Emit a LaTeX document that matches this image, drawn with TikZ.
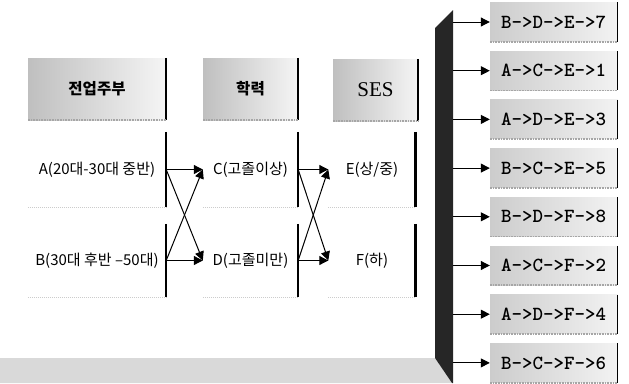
\documentclass[tikz,border=0pt]{standalone}
\usepackage{fontspec}
\setmainfont{Liberation Serif}
\newfontfamily\kr{Noto Sans CJK KR}
\usetikzlibrary{positioning, arrows.meta}
\tikzset{
  hdr/.style={rectangle, inner sep=0pt, minimum height=62pt, left color=gray!50, right color=gray!8},
  cellbox/.style={rectangle, inner sep=0pt, font=\kr\fontsize{15}{15}\selectfont},
  pathbox/.style={rectangle, inner sep=0pt, minimum width=127pt, minimum height=39pt,
    left color=gray!40, right color=gray!10, font=\ttfamily\bfseries\fontsize{20}{20}\selectfont},
  redge/.style={line width=2.5pt, black},
  bedge/.style={line width=1.8pt, gray!70, dash pattern=on 1pt off 0.6pt},
  cedge/.style={line width=1.2pt, gray!40, dash pattern=on 1pt off 1pt},
  arr/.style={-{Triangle[length=9pt,width=9pt]}, line width=1pt}}

\begin{document}
\begin{tikzpicture}[x=1pt,y=-1pt]
\useasboundingbox (0,0) rectangle (629,383);
% floor and wall
\fill[gray!30] (0,358) -- (435,358) -- (452,383) -- (0,383) -- cycle;
\fill[black!85] (435,28) -- (453,10) -- (453,383) -- (452,383) -- (435,358) -- cycle;
\coordinate (wall) at (453,0);
% headers
\node[hdr, minimum width=138pt, font=\kr\bfseries\fontsize{15.5}{16}\selectfont] (h1) at (97,89) {전업주부};
\node[hdr, minimum width=95pt, font=\kr\bfseries\fontsize{15.5}{16}\selectfont] (h2) at (250.5,89) {학력};
\node[hdr, minimum width=85pt, font=\fontsize{21}{21}\selectfont] (h3) at (375.5,90) {SES};
% cells
\node[cellbox, minimum width=138pt, minimum height=75pt] (a) at (97,169.5) {A(20대-30대 중반)};
\node[cellbox, minimum width=138pt, minimum height=73pt] (b) at (97,260.5) {B(30대 후반 –50대)};
\node[cellbox, minimum width=95pt, minimum height=75pt] (c) at (250.5,169.5) {C(고졸이상)};
\node[cellbox, minimum width=95pt, minimum height=73pt] (d) at (250.5,260.5) {D(고졸미만)};
\node[cellbox, minimum width=87pt, minimum height=75pt] (e) at (372,169.5) {E(상/중)};
\node[cellbox, minimum width=87pt, minimum height=73pt] (f) at (372,260.5) {F(하)};
\foreach \n in {h1,h2,h3} {
  \draw[redge] (\n.north east) -- (\n.south east);
  \draw[bedge] (\n.south west) -- (\n.south east);
}
\foreach \n in {a,b,c,d,e,f} {
  \draw[redge] (\n.north east) -- (\n.south east);
  \draw[cedge] (\n.south west) -- (\n.south east);
}
% links
\draw[arr] (a.east) -- (c.west);
\draw[arr] (a.east) -- (d.west);
\draw[arr] (b.east) -- (c.west);
\draw[arr] (b.east) -- (d.west);
\draw[arr] (c.east) -- (e.west);
\draw[arr] (c.east) -- (f.west);
\draw[arr] (d.east) -- (e.west);
\draw[arr] (d.east) -- (f.west);
% paths
\foreach \i/\t in {1/B->D->E->7, 2/A->C->E->1, 3/A->D->E->3, 4/B->C->E->5,
                   5/B->D->F->8, 6/A->C->F->2, 7/A->D->F->4, 8/B->C->F->6} {
  \node[pathbox] (p\i) at (553.5,{22+48.7*(\i-1)}) {\t};
  \draw[arr] (wall |- p\i.west) -- (p\i.west);
  \draw[line width=1pt] (p\i.north east) -- (p\i.south east);
  \draw[bedge] (p\i.south west) -- (p\i.south east);
}
\end{tikzpicture}
\end{document}
